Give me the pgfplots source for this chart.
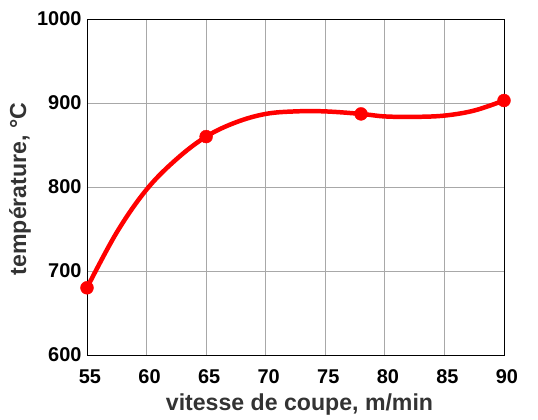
\documentclass[border=0pt]{standalone}
\usepackage{fontspec}
\setmainfont{Liberation Sans}
\usepackage{pgfplots}
\pgfplotsset{compat=1.18}
\definecolor{gridgray}{HTML}{A8A8A8}
\definecolor{labelgray}{HTML}{333333}
\begin{document}
\begin{tikzpicture}
\begin{axis}[
  scale only axis,
  width=417bp, height=336bp,
  xmin=55, xmax=90, ymin=600, ymax=1000,
  xtick={55,60,...,90}, ytick={600,700,...,1000},
  grid=major,
  major grid style={gridgray, line width=0.9pt},
  axis line style={black, line width=0.9pt},
  tick style={draw=none},
  ticklabel style={font=\fontsize{20}{21}\selectfont\bfseries},
  xticklabel style={anchor=center, yshift=-22bp, xshift=3bp},
  yticklabel style={anchor=east, xshift=-2bp},
  /pgf/number format/assume math mode=true,
  /pgf/number format/1000 sep={},
  xlabel={vitesse de coupe, m/min},
  ylabel={température, °C},
  label style={font=\fontsize{23.2}{25}\selectfont\bfseries, text=labelgray},
  xlabel style={at={(axis description cs:0.5,0)}, anchor=center, yshift=-50bp, xshift=4bp},
  ylabel style={at={(axis description cs:0,0.5)}, anchor=center, xshift=-2bp, yshift=67bp},
  clip=false,
]
\addplot[red, line width=4.5pt, smooth, tension=0.6] coordinates {
  (55,680) (57.5,746) (60,797) (62.5,833) (65,860) (67.5,877) (70,887)
  (72.5,890) (75,890) (78,887) (80,884) (82.5,883.5) (85,885) (87.5,891) (90,903)
};
\addplot[red, only marks, mark=*, mark size=6.5pt] coordinates {
  (55,680) (65,860) (78,887) (90,903)
};
\end{axis}
\path (current axis.south west) ++(-87bp,-63bp) coordinate (bl);
\path (current axis.north east) ++(34bp,19bp) coordinate (tr);
\useasboundingbox (bl) rectangle (tr);
\end{tikzpicture}
\end{document}
